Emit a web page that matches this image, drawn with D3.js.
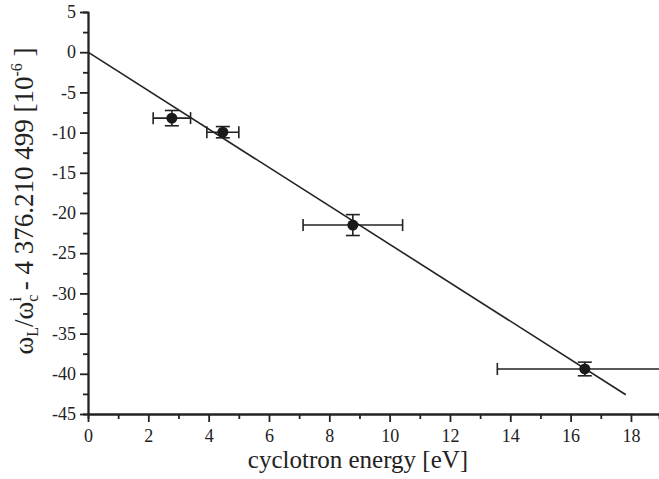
<!DOCTYPE html>
<html>
<head>
<meta charset="utf-8">
<script src="https://cdn.jsdelivr.net/npm/d3@7"></script>
</head>
<body style="margin:0">
<div id="chart"></div>
<script>
// measured points
const energy = [2.78, 4.47, 8.78, 16.47]
const energyErr = [0.62, 0.53, 1.65, 2.9]
const shift = [-8.2, -9.95, -21.5, -39.4]
const shiftErr = [0.95, 0.7, 1.3, 0.85]

// fitted line
const fitX = [0, 17.83]
const fitY = [0, -42.6]

const xTicks = [0, 2, 4, 6, 8, 10, 12, 14, 16, 18]
const yTicks = [5, 0, -5, -10, -15, -20, -25, -30, -35, -40, -45]

const FONT = 'Liberation Serif'

const margin = { top: 12, left: 88, right: 0, bottom: 65 }
const width = 659 - margin.left - margin.right
const height = 479 - margin.top - margin.bottom

const svg = d3
  .select('#chart')
  .append('svg')
  .attr('width', 659)
  .attr('height', 479)
  .attr('font-family', FONT)

const g = svg
  .append('g')
  .attr('transform', 'translate(' + margin.left + ',' + margin.top + ')')

const x = d3.scaleLinear().domain([0, 18.93]).range([0, width])
const y = d3.scaleLinear().domain([5, -45]).range([0, height])

// minor ticks
g.append('g')
  .attr('transform', 'translate(0,' + height + ')')
  .call(d3.axisBottom(x).tickValues(d3.range(1, 19, 2)).tickSize(5).tickFormat(''))
g.append('g')
  .call(d3.axisLeft(y).tickValues(d3.range(2.5, -45, -5)).tickSize(5).tickFormat(''))

g.append('g')
  .attr('transform', 'translate(0,' + height + ')')
  .call(d3.axisBottom(x).tickValues(xTicks).tickSize(8).tickPadding(7).tickSizeOuter(0))

g.append('g')
  .call(d3.axisLeft(y).tickValues(yTicks).tickSize(8).tickPadding(4).tickSizeOuter(0)
    .tickFormat(d => (d < 0 ? '-' + Math.abs(d) : d)))

g.selectAll('.tick text')
  .attr('font-family', FONT)
  .attr('font-size', 18)
  .attr('fill', '#222')
g.selectAll('.domain, .tick line').attr('stroke', '#222').attr('stroke-width', 1.8)

// fit line
const line = d3.line().x(d => x(d[0])).y(d => y(d[1]))
g.append('path')
  .datum(d3.zip(fitX, fitY))
  .attr('d', line)
  .attr('fill', 'none')
  .attr('stroke', '#222')
  .attr('stroke-width', 1.6)

const points = energy.map((e, i) => ({ e, ex: energyErr[i], s: shift[i], sx: shiftErr[i] }))

const errs = g.append('g').attr('stroke', '#222').attr('stroke-width', 1.6)
points.forEach(d => {
  // horizontal error bar
  errs.append('line')
    .attr('x1', x(d.e - d.ex)).attr('x2', x(d.e + d.ex))
    .attr('y1', y(d.s)).attr('y2', y(d.s))
  ;[d.e - d.ex, d.e + d.ex].forEach(v => {
    errs.append('line')
      .attr('x1', x(v)).attr('x2', x(v))
      .attr('y1', y(d.s) - 6).attr('y2', y(d.s) + 6)
  })
  // vertical error bar
  errs.append('line')
    .attr('x1', x(d.e)).attr('x2', x(d.e))
    .attr('y1', y(d.s - d.sx)).attr('y2', y(d.s + d.sx))
  ;[d.s - d.sx, d.s + d.sx].forEach(v => {
    errs.append('line')
      .attr('x1', x(d.e) - 7).attr('x2', x(d.e) + 7)
      .attr('y1', y(v)).attr('y2', y(v))
  })
})

g.selectAll('circle')
  .data(points)
  .enter()
  .append('circle')
  .attr('cx', d => x(d.e))
  .attr('cy', d => y(d.s))
  .attr('r', 5.5)
  .attr('fill', '#1a1a1a')

// axis titles
svg.append('text')
  .attr('x', 358)
  .attr('y', 468)
  .attr('text-anchor', 'middle')
  .attr('font-family', FONT)
  .attr('font-size', 25)
  .attr('fill', '#222')
  .text('cyclotron energy [eV]')

const yl = svg.append('text')
  .attr('transform', 'translate(33,201) rotate(-90)')
  .attr('text-anchor', 'middle')
  .attr('font-family', FONT)
  .attr('font-size', 27)
  .attr('fill', '#222')
yl.append('tspan').text('ω')
yl.append('tspan').attr('font-size', 16).attr('dy', 5).text('L')
yl.append('tspan').attr('dy', -5).text('/ω')
yl.append('tspan').attr('font-size', 16).attr('dy', 5).text('c')
yl.append('tspan').attr('font-size', 16).attr('dy', -17).attr('dx', -7).text('i')
yl.append('tspan').attr('dy', 12).text(' - 4 376.210 499 [10')
yl.append('tspan').attr('font-size', 16).attr('dy', -11).text('-6')
yl.append('tspan').attr('dy', 11).text(' ]')
</script>
</body>
</html>
